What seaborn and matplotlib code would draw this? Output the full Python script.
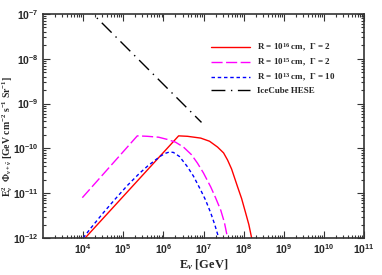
import numpy as np
import pandas as pd
import matplotlib
matplotlib.use("Agg")
import matplotlib.pyplot as plt
import seaborn as sns

# ---- data (log10 E [GeV], log10 E^2 Phi) ----
red_logE = [4.05, 6.38, 6.6, 6.93, 7.15, 7.35, 7.5, 7.6, 7.7, 7.85, 7.95, 8.05, 8.13, 8.2, 8.23]
red_logY = [-12.0, -9.72, -9.73, -9.77, -9.84, -9.97, -10.1, -10.26, -10.46, -10.86, -11.12, -11.44, -11.7, -12.0, -12.2]
mag_logE = [3.98, 5.35, 5.6, 5.88, 6.1, 6.3, 6.5, 6.7, 6.85, 7.0, 7.18, 7.3, 7.43, 7.52, 7.6, 7.63]
mag_logY = [-11.1, -9.72, -9.73, -9.75, -9.8, -9.86, -9.97, -10.14, -10.33, -10.55, -10.86, -11.1, -11.38, -11.65, -12.0, -12.2]
blue_logE = [4.0, 4.2, 4.5, 4.8, 5.1, 5.4, 5.6, 5.8, 5.95, 6.05, 6.15, 6.25, 6.4, 6.6, 6.75, 6.93, 7.05, 7.18, 7.28, 7.38, 7.41]
blue_logY = [-12.0, -11.77, -11.44, -11.13, -10.83, -10.56, -10.4, -10.26, -10.16, -10.11, -10.08, -10.09, -10.18, -10.41, -10.62, -10.93, -11.15, -11.44, -11.7, -12.0, -12.15]
ice_logE = [4.0, 6.95]
ice_logY = [-6.78, -9.42]

labels = [r"R = 10$^{16}$ cm,  $\Gamma$ = 2",
          r"R = 10$^{15}$ cm,  $\Gamma$ = 2",
          r"R = 10$^{13}$ cm,  $\Gamma$ = 10",
          "IceCube HESE"]

sns.set_style("ticks")
plt.rcParams["font.family"] = ["Liberation Serif", "DejaVu Serif"]
plt.rcParams["mathtext.fontset"] = "custom"
plt.rcParams["mathtext.rm"] = "Liberation Serif:bold"
plt.rcParams["mathtext.it"] = "Liberation Serif:italic:bold"
plt.rcParams["mathtext.bf"] = "Liberation Serif:bold"

fig = plt.figure(figsize=(3.82, 2.75), dpi=100)
ax = fig.add_axes([43/382, 37/275, 321/382, 224/275])

series = [
    (red_logE, red_logY, "#ff0000", (None, None), labels[0]),
    (mag_logE, mag_logY, "#ff00ff", (8, 2.5), labels[1]),
    (blue_logE, blue_logY, "#0000ff", (2.5, 2), labels[2]),
    (ice_logE, ice_logY, "#000000", (10, 4, 1, 4), labels[3]),
]
for lx, ly, c, d, lab in series:
    df = pd.DataFrame({"E": 10 ** np.array(lx), "F": 10 ** np.array(ly)})
    sns.lineplot(data=df, x="E", y="F", color=c, lw=1.0, sort=False,
                 estimator=None, ax=ax, label=lab)
    line = ax.get_lines()[-1]
    if d[0] is None:
        line.set_linestyle("-")
    else:
        line.set_dashes(d)

ax.set_xscale("log")
ax.set_yscale("log")
ax.set_xlim(1e3, 1e11)
ax.set_ylim(1e-12, 1e-7)
ax.set_xticks([10.0**k for k in range(4, 12)])
ax.set_yticks([10.0**k for k in range(-12, -6)])
ax.xaxis.set_minor_locator(matplotlib.ticker.LogLocator(base=10, subs=np.arange(2, 10), numticks=20))
ax.yaxis.set_minor_locator(matplotlib.ticker.LogLocator(base=10, subs=np.arange(2, 10), numticks=20))
ax.xaxis.set_minor_formatter(matplotlib.ticker.NullFormatter())
ax.yaxis.set_minor_formatter(matplotlib.ticker.NullFormatter())
ax.tick_params(which="both", direction="in", top=True, right=True, width=0.8, color="#333333")
ax.tick_params(which="major", length=5, pad=3)
ax.tick_params(which="minor", length=2.5)
for lab in ax.get_xticklabels() + ax.get_yticklabels():
    lab.set_fontfamily(["Liberation Sans", "DejaVu Sans"])
    lab.set_fontweight("bold")
    lab.set_fontsize(7.5)
for s in ax.spines.values():
    s.set_linewidth(1.2)
    s.set_color("#333333")

ax.set_xlabel(r"E$_\nu$ [GeV]", fontsize=9, fontweight="bold", labelpad=1)
ax.set_ylabel(r"E$_\nu^2$  $\Phi_{\nu+\bar{\nu}}$ [GeV cm$^{-2}$ s$^{-1}$ Sr$^{-1}$]",
              fontsize=7, fontweight="bold", va="center")
ax.yaxis.set_label_coords(-0.11, 0.455)

leg = ax.legend(loc="upper left", bbox_to_anchor=(0.523, 0.875), frameon=False,
                handlelength=4.3, labelspacing=0.3, handletextpad=0.8,
                borderpad=0, borderaxespad=0,
                prop={"family": "Liberation Serif", "weight": "bold", "size": 6.5})

fig.savefig("out.png", dpi=100)
